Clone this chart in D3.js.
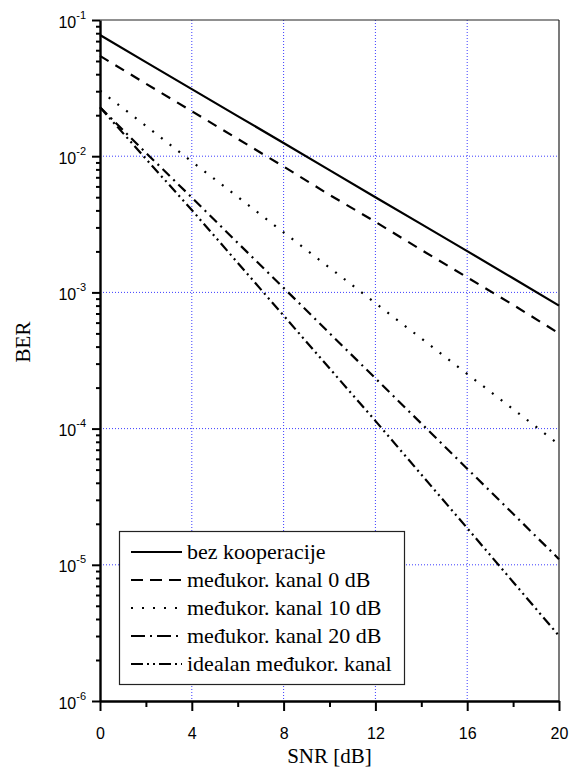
<!DOCTYPE html>
<html>
<head>
<meta charset="utf-8">
<script src="https://d3js.org/d3.v7.min.js"></script>
<style>
	body { margin: 0; background: #fff; }
	.grid line { stroke: #3c3cff; stroke-width: 1; stroke-dasharray: 1,2; }
</style>
</head>
<body>
<script>
// data
let snr = [0, 2, 4, 6, 8, 10, 12, 14, 16, 18, 20];
let bezKooperacije = [0.0776, 0.0491, 0.0311, 0.0197, 0.0125, 0.0079, 0.0050, 0.00317, 0.00201, 0.00127, 0.00080];
let kanal0 = [0.0545, 0.0341, 0.0214, 0.0134, 0.0084, 0.0052, 0.0033, 0.00205, 0.00129, 0.00081, 0.00050];
let kanal10 = [0.0303, 0.0167, 0.00913, 0.00503, 0.00276, 0.00152, 0.000834, 0.000459, 0.000252, 0.000139, 0.0000763];
let kanal20 = [0.0229, 0.0106, 0.00497, 0.00231, 0.00108, 0.000502, 0.000234, 0.000109, 0.0000508, 0.0000237, 0.0000110];
let idealan = [0.0229, 0.00955, 0.00403, 0.00165, 0.000676, 0.000277, 0.000114, 0.0000460, 0.0000186, 0.00000748, 0.00000301];
let names = ["bez kooperacije", "međukor. kanal 0 dB", "međukor. kanal 10 dB", "međukor. kanal 20 dB", "idealan međukor. kanal"];
let xTicks = [0, 4, 8, 12, 16, 20];
let yDecades = [-1, -2, -3, -4, -5, -6];

let series = [bezKooperacije, kanal0, kanal10, kanal20, idealan];
let dashes = [null, "10,8", "2,9", "10,5,2,5", "10,4,2,4,2,4"];
let legDashes = [null, "12,7", "2,9", "14,5,2,5", "12,4,2,4,2,4"];

const W = 569, H = 770;
const mL = 100, mR = 559, mT = 20, mB = 701;
const SERIF = "Liberation Serif", SANS = "Liberation Sans";

let svg = d3.select("body").append("svg")
	.attr("width", W)
	.attr("height", H);

let x = d3.scaleLinear().domain([0, 20]).range([mL, mR]);
let y = d3.scaleLog().domain([1e-6, 1e-1]).range([mB, mT]);

// grid
let grid = svg.append("g").attr("class", "grid");
grid.selectAll("line.v").data([4, 8, 12, 16]).enter().append("line")
	.attr("x1", d => x(d)).attr("x2", d => x(d))
	.attr("y1", mT).attr("y2", mB);
grid.selectAll("line.h").data([-2, -3, -4, -5]).enter().append("line")
	.attr("x1", mL).attr("x2", mR)
	.attr("y1", d => y(Math.pow(10, d))).attr("y2", d => y(Math.pow(10, d)));

// frame top/right
svg.append("line").attr("x1", mL).attr("x2", mR).attr("y1", mT).attr("y2", mT)
	.attr("stroke", "#222").attr("stroke-width", 1.2);
svg.append("line").attr("x1", mR).attr("x2", mR).attr("y1", mT).attr("y2", mB)
	.attr("stroke", "#222").attr("stroke-width", 1.2);

// lines
let line = d3.line().x((d, i) => x(snr[i])).y(d => y(d));
svg.selectAll("path.s").data(series).enter().append("path")
	.attr("d", d => line(d))
	.attr("fill", "none")
	.attr("stroke", "#000")
	.attr("stroke-width", 2.2)
	.attr("stroke-dasharray", (d, i) => dashes[i]);

// x axis
let minorX = d3.range(0, 21, 2).filter(d => d % 4 != 0);
svg.append("g").attr("transform", `translate(0,${mB})`)
	.call(d3.axisBottom(x).tickValues(minorX).tickSize(6).tickFormat(""))
	.call(g => g.select(".domain").remove())
	.selectAll("line").attr("stroke-width", 2);
let xa = svg.append("g").attr("transform", `translate(0,${mB})`)
	.call(d3.axisBottom(x).tickValues(xTicks).tickSize(10).tickSizeOuter(0).tickPadding(17).tickFormat(d3.format("d")));
xa.select(".domain").attr("stroke-width", 2.4);
xa.selectAll("line").attr("stroke-width", 2);
xa.attr("font-family", SANS).attr("font-size", 16);

// y axis
let minorY = [];
yDecades.slice(0, 5).forEach(e => { for (let k = 2; k < 10; k++) minorY.push(k * Math.pow(10, e - 1)); });
svg.append("g").attr("transform", `translate(${mL},0)`)
	.call(d3.axisLeft(y).tickValues(minorY).tickSize(4).tickFormat(""))
	.call(g => g.select(".domain").remove())
	.selectAll("line").attr("stroke-width", 2);
let ya = svg.append("g").attr("transform", `translate(${mL},0)`)
	.call(d3.axisLeft(y).tickValues(yDecades.map(e => Math.pow(10, e))).tickSize(8).tickSizeOuter(0).tickFormat(""));
ya.select(".domain").attr("stroke-width", 2.4);
ya.selectAll("line").attr("stroke-width", 2);
ya.attr("font-family", SANS).attr("font-size", 16);
ya.selectAll(".tick").each(function (d) {
	let t = d3.select(this).append("text")
		.attr("x", -14).attr("y", 7)
		.attr("fill", "#000")
		.attr("text-anchor", "end");
	t.append("tspan").text("10");
	t.append("tspan").attr("dy", -9).attr("font-size", 11).text(Math.round(Math.log10(d)));
});

// axis titles
svg.append("text")
	.attr("font-family", SERIF).attr("font-size", 21)
	.attr("x", (mL + mR) / 2).attr("y", 763)
	.attr("text-anchor", "middle").text("SNR [dB]");
svg.append("text")
	.attr("font-family", SERIF).attr("font-size", 21)
	.attr("transform", "translate(30,342) rotate(-90)")
	.attr("text-anchor", "middle").text("BER");

// legend
let leg = svg.append("g").attr("font-family", SERIF).attr("font-size", 22);
leg.append("rect").attr("x", 119.5).attr("y", 531.5).attr("width", 285).attr("height", 153)
	.attr("fill", "#fff").attr("stroke", "#222").attr("stroke-width", 1.2);
let rows = leg.selectAll("g.row").data(names).enter().append("g")
	.attr("transform", (d, i) => `translate(0,${552 + i * 28})`);
rows.append("line").attr("x1", 131).attr("x2", 182).attr("y1", 0).attr("y2", 0)
	.attr("stroke", "#000").attr("stroke-width", 2.2)
	.attr("stroke-dasharray", (d, i) => legDashes[i]);
rows.append("text").attr("x", 187).attr("y", 7).text(d => d);
</script>
</body>
</html>
